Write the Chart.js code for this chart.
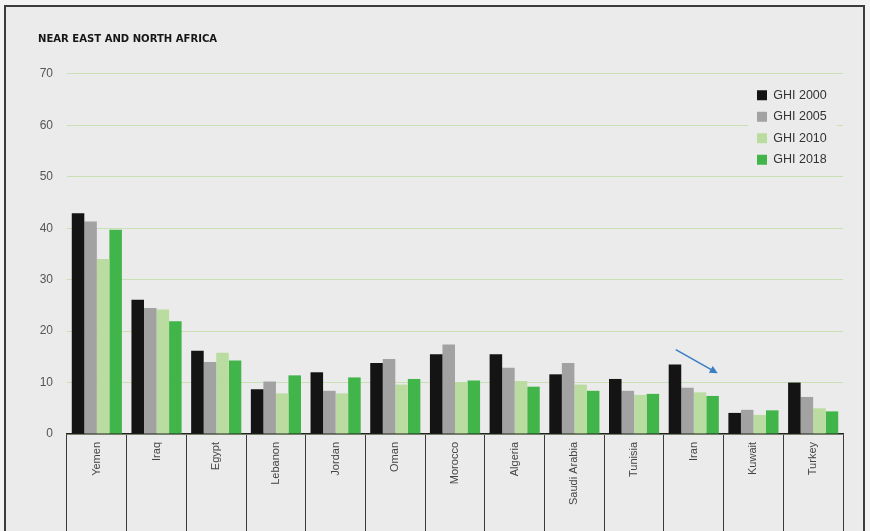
<!DOCTYPE html>
<html>
<head>
<meta charset="utf-8">
<script src="https://cdn.jsdelivr.net/npm/chart.js@4/dist/chart.umd.min.js"></script>
<style>
html, body { margin: 0; padding: 0; background: #f3f3f3; }
#wrap { position: relative; width: 870px; height: 531px; overflow: hidden; }
#frame { position: absolute; left: 4px; top: 5px; width: 861px; height: 600px; border: 2px solid #3c3c3c; background: #ebebeb; box-sizing: border-box; }
canvas { position: absolute; left: 0; top: 0; }
</style>
</head>
<body>
<div id="wrap">
  <div id="frame"></div>
  <canvas id="ghiChart" width="870" height="531"></canvas>
</div>
<script>
const countries = ['Yemen', 'Iraq', 'Egypt', 'Lebanon', 'Jordan', 'Oman', 'Morocco', 'Algeria', 'Saudi Arabia', 'Tunisia', 'Iran', 'Kuwait', 'Turkey'];
const ghi2000 = [42.9, 26.1, 16.2, 8.7, 12.0, 13.8, 15.5, 15.5, 11.6, 10.7, 13.5, 4.1, 10.0];
const ghi2005 = [41.3, 24.5, 14.0, 10.2, 8.4, 14.6, 17.4, 12.9, 13.8, 8.4, 9.0, 4.7, 7.2];
const ghi2010 = [34.0, 24.2, 15.8, 7.9, 7.9, 9.6, 10.1, 10.3, 9.6, 7.6, 8.1, 3.7, 5.0];
const ghi2018 = [39.7, 21.9, 14.3, 11.4, 11.0, 10.7, 10.4, 9.2, 8.4, 7.8, 7.4, 4.6, 4.4];
const seriesLabels = ['GHI 2000', 'GHI 2005', 'GHI 2010', 'GHI 2018'];
const yMin = 0;
const yMax = 70;
const yStep = 10;

const bgColor = '#ebebeb';
const colors = ['#141414', '#a2a2a2', '#bbdca0', '#42b54a'];

// leyenda dentro del area del grafico, arriba a la derecha
const legendInside = {
    id: 'legendInside',
    afterLayout(chart) {
        const lg = chart.legend;
        const ca = chart.chartArea;
        lg.left = ca.right - 95;
        lg.right = lg.left + lg.width;
        lg.top = ca.top + 6;
        if (!lg._bgWrapped) {
            const origDraw = lg.draw.bind(lg);
            lg.draw = function (area) {
                const boxes = this.legendHitBoxes;
                const ctx = this.ctx;
                ctx.save();
                ctx.fillStyle = bgColor;
                ctx.fillRect(this.left, this.top, this.width, 9 * 2 + boxes.length * 21 - 9);
                ctx.restore();
                origDraw(area);
            };
            lg._bgWrapped = true;
        }
    }
};

// flecha azul junto a Iran
const arrowNote = {
    id: 'arrowNote',
    afterDatasetsDraw(chart) {
        const { ctx, scales: { x, y } } = chart;
        const cx = x.getPixelForValue(countries.indexOf('Iran'));
        const x0 = cx - 18, y0 = y.getPixelForValue(16.4);
        const x1 = cx + 24, y1 = y.getPixelForValue(11.8);
        const ang = Math.atan2(y1 - y0, x1 - x0);
        ctx.save();
        ctx.strokeStyle = '#3a7ec4';
        ctx.fillStyle = '#3a7ec4';
        ctx.lineWidth = 1.6;
        ctx.beginPath();
        ctx.moveTo(x0, y0);
        ctx.lineTo(x1 - 5 * Math.cos(ang), y1 - 5 * Math.sin(ang));
        ctx.stroke();
        ctx.beginPath();
        ctx.moveTo(x1, y1);
        ctx.lineTo(x1 - 8 * Math.cos(ang) + 4 * Math.sin(ang), y1 - 8 * Math.sin(ang) - 4 * Math.cos(ang));
        ctx.lineTo(x1 - 8 * Math.cos(ang) - 4 * Math.sin(ang), y1 - 8 * Math.sin(ang) + 4 * Math.cos(ang));
        ctx.closePath();
        ctx.fill();
        ctx.restore();
    }
};

const allSeries = [ghi2000, ghi2005, ghi2010, ghi2018];

new Chart(document.getElementById('ghiChart'), {
    type: 'bar',
    data: {
        labels: countries,
        datasets: allSeries.map((values, i) => ({
            label: seriesLabels[i],
            data: values,
            backgroundColor: colors[i],
            borderWidth: 0,
            categoryPercentage: 0.84,
            barPercentage: 1.0
        }))
    },
    options: {
        responsive: false,
        animation: false,
        devicePixelRatio: 1,
        layout: { padding: { left: 38, right: 27, top: 0, bottom: 0 } },
        plugins: {
            title: {
                display: true,
                text: 'NEAR EAST AND NORTH AFRICA',
                align: 'start',
                color: '#161616',
                font: { family: '"DejaVu Sans Condensed", "Liberation Sans Narrow", sans-serif', size: 11.2, weight: 'bold' },
                padding: { top: 32, bottom: 28.5 }
            },
            legend: {
                position: 'chartArea',
                align: 'start',
                labels: {
                    boxWidth: 10,
                    boxHeight: 10,
                    padding: 9,
                    color: '#333',
                    font: { family: '"Liberation Sans", Arial, sans-serif', size: 12.5 }
                }
            },
            tooltip: { enabled: false }
        },
        scales: {
            x: {
                afterFit(scale) { scale.height = 97; },
                grid: {
                    offset: true,
                    drawOnChartArea: false,
                    drawTicks: true,
                    tickLength: 100,
                    color: '#3a3a3a',
                    lineWidth: 1,
                    z: -1
                },
                border: { display: true, color: '#222', width: 1.5 },
                ticks: {
                    autoSkip: false,
                    minRotation: 90,
                    maxRotation: 90,
                    padding: -92,
                    color: '#444',
                    font: { family: '"Liberation Sans", Arial, sans-serif', size: 11 }
                }
            },
            y: {
                min: yMin,
                max: yMax,
                afterFit(scale) { scale.width = 29; },
                grid: { color: '#c9e0b5', lineWidth: 1, drawTicks: false, z: -1 },
                border: { display: false },
                ticks: {
                    stepSize: yStep,
                    padding: 14,
                    color: '#555',
                    font: { family: '"Liberation Sans", Arial, sans-serif', size: 12 }
                }
            }
        }
    },
    plugins: [legendInside, arrowNote]
});
</script>
</body>
</html>
